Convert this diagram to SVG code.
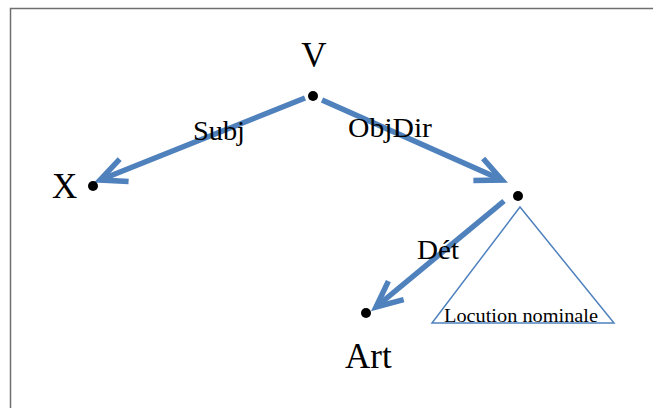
<svg xmlns="http://www.w3.org/2000/svg" width="653" height="408" viewBox="0 0 653 408">
<defs>
<style>
.big{font-size:35px}
.lbl{font-size:27px}
.arrow{stroke:#4f81bd;stroke-width:5.5;fill:none}
.dot{fill:#000}
</style>
<marker id="chev" markerUnits="userSpaceOnUse" markerWidth="40" markerHeight="40" refX="0" refY="0" viewBox="-30 -20 40 40" orient="auto" overflow="visible">
<path d="M -26,-12 L 0,0 L -26,12" fill="none" stroke="#4f81bd" stroke-width="5.5" stroke-miterlimit="10"/>
</marker>
</defs>
<rect x="10.5" y="8.5" width="700" height="500" fill="#fff" stroke="#6f6f6f" stroke-width="1.5"/>
<g font-family="'Liberation Serif', 'Times New Roman', serif" fill="#000">
<g id="connectors">
<line class="arrow" x1="305" y1="98" x2="100" y2="180" marker-end="url(#chev)"/>
<line class="arrow" x1="322" y1="100" x2="502" y2="180" marker-end="url(#chev)"/>
<line class="arrow" x1="504" y1="201" x2="376" y2="307" marker-end="url(#chev)"/>
<text class="lbl" x="193" y="140" textLength="52" lengthAdjust="spacingAndGlyphs">Subj</text>
<text class="lbl" x="348" y="137" textLength="84" lengthAdjust="spacingAndGlyphs">ObjDir</text>
<text class="lbl" x="417" y="259" textLength="42" lengthAdjust="spacingAndGlyphs">Dét</text>
</g>
<g id="node-V">
<text class="big" x="314" y="67" text-anchor="middle">V</text>
<circle class="dot" cx="313" cy="96" r="5"/>
</g>
<g id="node-X">
<text class="big" x="52" y="198">X</text>
<circle class="dot" cx="93" cy="186" r="5"/>
</g>
<g id="node-N">
<circle class="dot" cx="518" cy="196" r="5"/>
<polygon points="520,207 432,323 614,323" fill="none" stroke="#4f81bd" stroke-width="1.5"/>
<text x="444" y="322" font-size="19" textLength="154" lengthAdjust="spacingAndGlyphs">Locution nominale</text>
</g>
<g id="node-Art">
<circle class="dot" cx="366" cy="313" r="5"/>
<text class="big" x="345" y="368">Art</text>
</g>
</g>
</svg>
